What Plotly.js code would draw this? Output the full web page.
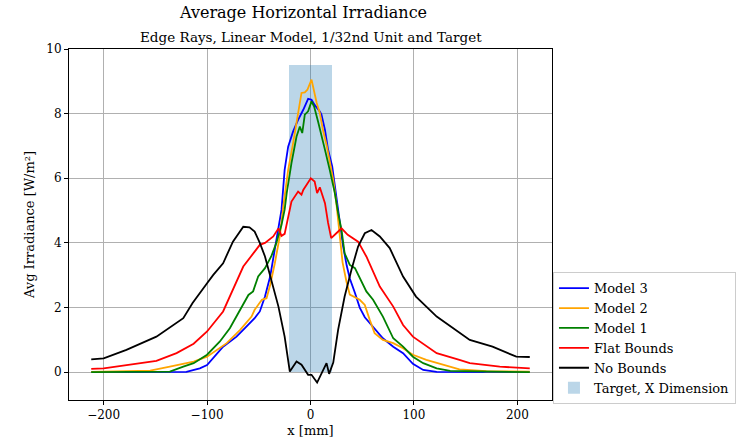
<!DOCTYPE html>
<html>
<head>
<meta charset="utf-8">
<script src="https://cdn.plot.ly/plotly-3.0.1.min.js"></script>
<style>html,body{margin:0;padding:0;background:#fff;overflow:hidden;}#chart{width:737px;height:447px;}</style>
</head>
<body>
<div id="chart"></div>
<script>
// ---- Data ----
const noBoundsX = [-212, -200, -178, -149, -123, -114, -100, -94, -84.5, -75, -65, -59, -54, -49, -44, -38, -31, -25, -21.6, -20, -13.5, -8.7, -2.3, 1, 6.4, 12.2, 15.5, 18, 22, 26.7, 33, 39.6, 46, 52.5, 59, 67, 76.6, 89.5, 102, 122, 144, 154, 176, 199, 212];
const noBoundsY = [0.40, 0.43, 0.69, 1.10, 1.67, 2.14, 2.75, 3.01, 3.37, 4.04, 4.50, 4.48, 4.35, 4.00, 3.58, 2.86, 2.03, 1.10, 0.38, 0.02, 0.33, 0.23, -0.08, -0.08, -0.32, 0.07, 0.28, -0.05, 0.30, 1.31, 2.34, 3.17, 3.89, 4.30, 4.40, 4.20, 3.84, 2.96, 2.34, 1.72, 1.21, 1.00, 0.79, 0.48, 0.47];

const flatX = [-212, -200, -149, -129.5, -113, -100, -84.5, -75, -65, -54, -49, -44, -36, -31, -28, -25, -21.6, -18.4, -12, -8.7, -7, -4, 0.3, 4, 6.4, 9, 14, 17, 20, 25, 30, 36, 46, 54, 67, 80, 89.5, 99, 122, 144, 154, 183, 212];
const flatY = [0.10, 0.12, 0.35, 0.59, 0.88, 1.26, 1.88, 2.55, 3.27, 3.73, 3.94, 4.00, 4.20, 4.45, 4.22, 4.28, 4.80, 5.28, 5.59, 5.49, 5.64, 5.80, 6.00, 5.90, 5.54, 5.72, 5.23, 4.62, 4.15, 4.30, 4.45, 4.25, 4.04, 3.58, 2.65, 2.03, 1.46, 1.10, 0.59, 0.38, 0.28, 0.17, 0.12];

const model3X = [-212, -150, -120, -107, -100, -84.5, -71.5, -62, -54, -49, -44, -39, -34.5, -30.6, -28, -25, -21.6, -16.8, -12, -7, -2.3, 1, 4, 9, 10.6, 14, 17, 21, 25, 28, 31.5, 35, 38, 43, 47.6, 52.5, 60.5, 70, 80, 89.5, 99, 109, 122, 150, 212];
const model3Y = [0, 0, 0.01, 0.12, 0.22, 0.79, 1.10, 1.41, 1.67, 1.88, 2.34, 2.96, 3.79, 4.61, 5.03, 6.26, 6.98, 7.45, 7.81, 8.12, 8.46, 8.43, 8.27, 8.07, 7.97, 7.50, 6.88, 6.37, 5.40, 4.70, 3.90, 3.30, 2.90, 2.45, 2.00, 1.70, 1.41, 1.05, 0.79, 0.59, 0.26, 0.07, 0.01, 0, 0];

const model2X = [-212, -180, -155, -136, -113, -100, -81, -68, -57, -54, -47, -42.5, -39, -34.5, -29.7, -25.5, -21.6, -16.8, -12, -8.7, -5.5, -3, 1, 3.5, 6, 9, 12, 15.5, 18.6, 22, 25, 28, 31, 34.8, 38, 47.6, 52.5, 57.3, 62, 70, 80, 89.5, 99, 112, 128, 144, 170, 212];
const model2Y = [0.01, 0.02, 0.05, 0.17, 0.33, 0.48, 0.90, 1.31, 1.72, 1.93, 2.24, 2.29, 2.70, 3.37, 4.20, 5.33, 6.26, 7.09, 8.02, 8.64, 8.66, 8.74, 9.05, 8.64, 8.33, 8.02, 7.50, 7.04, 6.57, 5.95, 5.23, 4.20, 3.40, 2.80, 2.40, 2.24, 2.08, 1.62, 1.21, 1.00, 0.90, 0.74, 0.54, 0.38, 0.23, 0.09, 0.03, 0.02];

const model1X = [-212, -136, -123, -113, -100, -87.6, -78, -68, -60, -55.5, -50.6, -44, -38, -33, -28, -25, -23, -18.4, -13.5, -10.3, -8, -5.5, -2.3, 1, 3.5, 7.3, 10.6, 14, 18.6, 23.5, 26.7, 30, 33, 38, 43, 47.6, 54, 60.5, 70, 80, 89.5, 99, 109, 122, 135, 212];
const model1Y = [0, 0.02, 0.17, 0.28, 0.54, 0.95, 1.36, 1.93, 2.39, 2.50, 2.96, 3.22, 3.58, 4.00, 4.56, 5.03, 5.54, 6.47, 7.29, 7.60, 7.40, 7.97, 8.07, 8.38, 8.22, 7.76, 7.29, 6.88, 6.26, 5.54, 4.92, 4.40, 3.68, 3.32, 3.22, 2.90, 2.50, 2.24, 1.72, 1.05, 0.79, 0.48, 0.28, 0.12, 0.04, 0];

const targetCenter = [0];
const targetHeight = [9.5];
const targetWidth = 42;

const seriesNames = ["Model 3", "Model 2", "Model 1", "Flat Bounds", "No Bounds", "Target, X Dimension"];
const xTicks = [-200, -100, 0, 100, 200];
const yTicks = [0, 2, 4, 6, 8, 10];

// ---- Chart ----
const font = "DejaVu Serif, Liberation Serif, serif";
const line = (x, y, name, color) => ({
  type: "scatter", mode: "lines", x: x, y: y, name: name,
  line: {color: color, width: 1.8}
});

const traces = [
  line(model3X, model3Y, seriesNames[0], "#0000ff"),
  line(model2X, model2Y, seriesNames[1], "#ffa500"),
  line(model1X, model1Y, seriesNames[2], "#008000"),
  line(flatX, flatY, seriesNames[3], "#ff0000"),
  line(noBoundsX, noBoundsY, seriesNames[4], "#000000"),
  {type: "bar", x: targetCenter, y: targetHeight, width: [targetWidth], name: seriesNames[5],
   marker: {color: "rgba(31,119,180,0.3)", line: {width: 0}}}
];

const layout = {
  width: 737, height: 447,
  margin: {l: 69, r: 185, t: 49, b: 47, pad: 0, autoexpand: false},
  paper_bgcolor: "#fff", plot_bgcolor: "#fff",
  font: {family: font, size: 12, color: "#000"},
  showlegend: true,
  legend: {
    x: 1.002, xanchor: "left", y: -0.012, yanchor: "bottom",
    bgcolor: "rgba(255,255,255,0.9)", bordercolor: "#cccccc", borderwidth: 1,
    font: {family: font, size: 13, color: "#000"},
    traceorder: "normal", itemwidth: 30, tracegroupgap: 0
  },
  xaxis: {
    range: [-233.5, 233.5], tickvals: xTicks, ticks: "outside", ticklen: 4, tickcolor: "#000",
    showgrid: true, gridcolor: "#b0b0b0", gridwidth: 1, zeroline: false,
    showline: true, linecolor: "#000", linewidth: 1, mirror: true,
    tickfont: {family: font, size: 12},
    title: {text: "x [mm]", font: {family: font, size: 13}, standoff: 4}
  },
  yaxis: {
    range: [-0.86, 10], tickvals: yTicks, ticks: "outside", ticklen: 4, tickcolor: "#000",
    showgrid: true, gridcolor: "#b0b0b0", gridwidth: 1, zeroline: false,
    showline: true, linecolor: "#000", linewidth: 1, mirror: true,
    tickfont: {family: font, size: 12},
    title: {text: "Avg Irradiance [W/m²]", font: {family: font, size: 13}, standoff: 8}
  },
  annotations: [
    {text: "Average Horizontal Irradiance", xref: "paper", yref: "paper", x: 0.484, y: 1, yshift: 37,
     xanchor: "center", yanchor: "middle", showarrow: false, font: {family: font, size: 16, color: "#000"}},
    {text: "Edge Rays, Linear Model, 1/32nd Unit and Target", xref: "paper", yref: "paper", x: 0.5, y: 1, yshift: 12,
     xanchor: "center", yanchor: "middle", showarrow: false, font: {family: font, size: 13.5, color: "#000"}}
  ],
  bargap: 0
};

Plotly.newPlot("chart", traces, layout, {displayModeBar: false, staticPlot: true});
</script>
</body>
</html>
